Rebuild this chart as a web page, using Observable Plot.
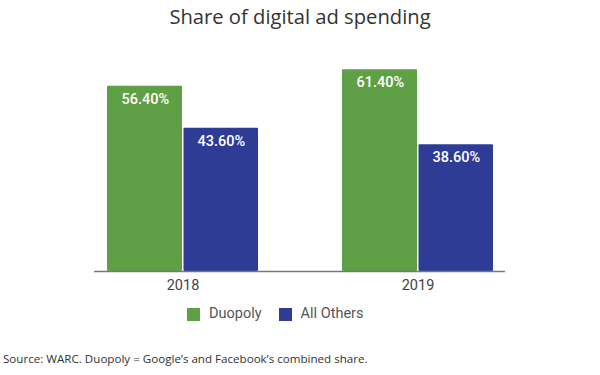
<!DOCTYPE html>
<html>
<head>
<meta charset="utf-8">
<script src="https://cdn.jsdelivr.net/npm/d3@7"></script>
<script src="https://cdn.jsdelivr.net/npm/@observablehq/plot@0.6"></script>
<style>
  html, body { margin: 0; padding: 0; background: #fff; }
  #wrap { position: relative; width: 600px; height: 375px; overflow: hidden; }
  #title { position: absolute; left: 0; top: 2px; width: 600px; text-align: center;
    font-family: "Open Sans", sans-serif; font-size: 20.2px; color: #333; line-height: 28px; }
  #chart { position: absolute; left: 0; top: 0; }
  #legend { position: absolute; left: 187px; top: 304px; font-family: Roboto, sans-serif;
    font-size: 14.5px; color: #555; display: flex; align-items: center; line-height: 20px; }
  .sw { width: 13px; height: 13px; display: inline-block; margin-right: 9px; }
  .item { display: flex; align-items: center; margin-right: 17px; }
  #caption { position: absolute; left: 3px; top: 350px; font-family: "Open Sans", sans-serif;
    font-size: 11.6px; color: #333; line-height: 18px; }
</style>
</head>
<body>
<div id="wrap">
  <div id="chart"></div>
  <div id="title">Share of digital ad spending</div>
  <div id="legend"></div>
  <div id="caption">Source: WARC. Duopoly = Google’s and Facebook’s combined share.</div>
</div>
<script>
const years = ["2018", "2019"];
const series = ["Duopoly", "All Others"];
const duopoly = [56.4, 61.4];
const allOthers = [43.6, 38.6];
const colors = ["#5fa046", "#2f3c96"];

const data = [];
years.forEach((yr, i) => {
  data.push({year: yr, series: series[0], value: duopoly[i]});
  data.push({year: yr, series: series[1], value: allOthers[i]});
});
const dA = data.filter(d => d.series === series[0]);
const dB = data.filter(d => d.series === series[1]);

const half = 75.5;
const fmt = v => v.toFixed(2) + "%";

const chart = Plot.plot({
  width: 600,
  height: 300,
  marginLeft: 94,
  marginRight: 95,
  marginTop: 41,
  marginBottom: 29,
  style: {fontFamily: "Roboto, sans-serif", background: "transparent"},
  x: {domain: years, paddingInner: 0.359, paddingOuter: 0.051, label: null},
  y: {domain: [0, 70], axis: null},
  color: {domain: series, range: colors},
  marks: [
    Plot.barY(dA, {x: "year", y: "value", fill: "series", insetRight: half + 0.5, insetLeft: 0, rx: 1}),
    Plot.barY(dB, {x: "year", y: "value", fill: "series", insetLeft: half + 1, insetRight: 0, rx: 1}),
    Plot.text(dA, {x: "year", y: "value", text: d => fmt(d.value), dx: -half / 2, dy: 13,
      fill: "white", fontSize: 14.5, fontWeight: 500}),
    Plot.text(dB, {x: "year", y: "value", text: d => fmt(d.value), dx: half / 2 + 0.5, dy: 13,
      fill: "white", fontSize: 14.5, fontWeight: 500}),
    Plot.ruleY([0], {stroke: "#777", strokeWidth: 1.5}),
    Plot.axisX({tickSize: 0, tickPadding: 8, fontSize: 14.5, color: "#444", label: null})
  ]
});
document.getElementById("chart").appendChild(chart);

const legend = document.getElementById("legend");
series.forEach((s, i) => {
  const it = document.createElement("span");
  it.className = "item";
  const sw = document.createElement("span");
  sw.className = "sw";
  sw.style.background = colors[i];
  it.appendChild(sw);
  it.appendChild(document.createTextNode(s));
  legend.appendChild(it);
});
</script>
</body>
</html>
